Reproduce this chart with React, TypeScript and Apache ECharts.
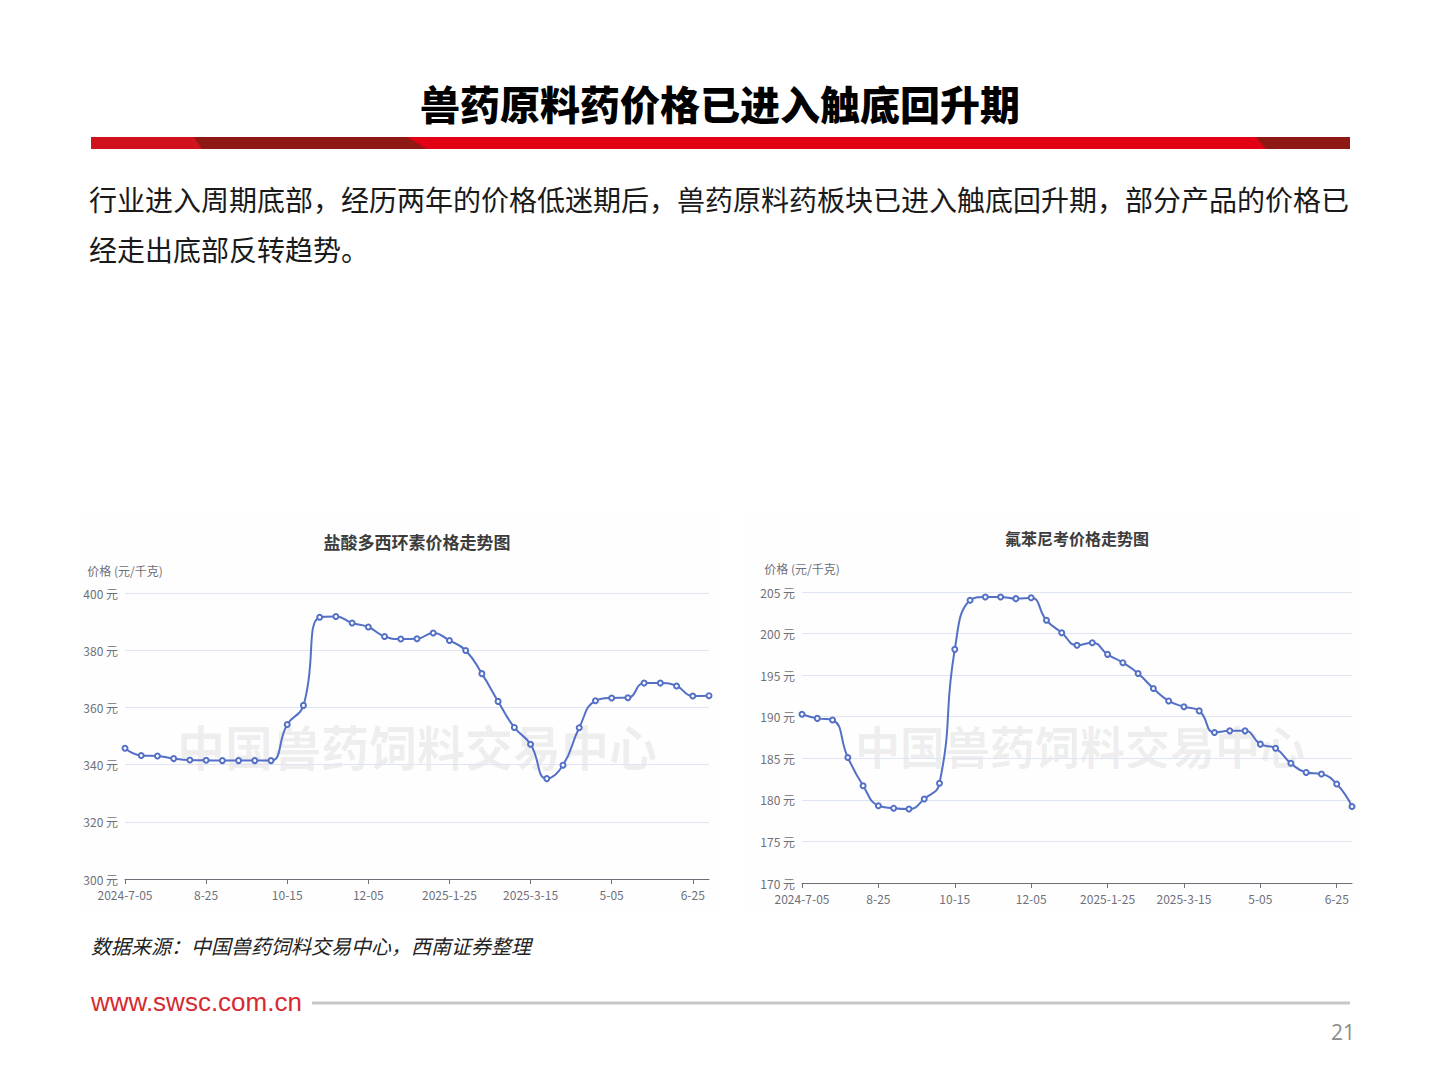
import React, { useEffect, useRef } from "react";
import * as echarts from "echarts";

const categories = [
  "2024-7-05", "7-15", "7-25", "8-05", "8-15", "8-25", "9-05", "9-15", "9-25", "10-05",
  "10-15", "10-25", "11-05", "11-15", "11-25", "12-05", "12-15", "12-25", "2025-1-05", "1-15",
  "2025-1-25", "2-05", "2-15", "2-25", "3-05", "2025-3-15", "3-25", "4-05", "4-15", "4-25",
  "5-05", "5-15", "5-25", "6-05", "6-15", "6-25", "7-05",
];

const doxyValues = [
  345.7, 343.2, 343.0, 342.1, 341.6, 341.5, 341.4, 341.4, 341.4, 341.4,
  354.0, 360.7, 391.5, 391.8, 389.5, 388.1, 384.8, 383.9, 384.0, 386.0,
  383.4, 379.9, 371.8, 362.1, 353.0, 347.1, 335.1, 339.8, 352.9, 362.3,
  363.3, 363.4, 368.5, 368.5, 367.5, 364.0, 364.1,
];

const florValues = [
  190.3, 189.8, 189.6, 185.1, 181.7, 179.3, 179.0, 178.9, 180.1, 182.0,
  198.1, 204.0, 204.4, 204.4, 204.2, 204.3, 201.6, 200.1, 198.6, 198.9,
  197.5, 196.5, 195.2, 193.4, 191.9, 191.2, 190.7, 188.1, 188.3, 188.3,
  186.7, 186.2, 184.4, 183.3, 183.1, 181.9, 179.2,
];

const pageTitle = "兽药原料药价格已进入触底回升期";
const paragraphLines = [
  "行业进入周期底部，经历两年的价格低迷期后，兽药原料药板块已进入触底回升期，部分产品的价格已",
  "经走出底部反转趋势。",
];
const chartTitles = ["盐酸多西环素价格走势图", "氟苯尼考价格走势图"];
const yAxisName = "价格 (元/千克)";
const watermark = "中国兽药饲料交易中心";
const sourceNote = "数据来源：中国兽药饲料交易中心，西南证券整理";
const website = "www.swsc.com.cn";
const pageNumber = "21";

const FONT = "'Noto Sans CJK SC', 'Noto Sans', sans-serif";
const LINE_COLOR = "#5470c6";

function makeXAxis(gridIndex: number) {
  return {
    type: "category",
    gridIndex,
    data: categories,
    boundaryGap: false,
    axisLine: { lineStyle: { color: "#6e7079" } },
    axisTick: { interval: 4, lineStyle: { color: "#6e7079" } },
    axisLabel: {
      interval: 4,
      color: "#6e7079",
      fontSize: 12,
      fontFamily: FONT,
      margin: 9,
    },
    splitLine: { show: false },
  };
}

function makeYAxis(gridIndex: number, min: number, max: number, interval: number, gap: number) {
  return {
    type: "value",
    gridIndex,
    min,
    max,
    interval,
    name: yAxisName,
    nameGap: gap,
    nameTextStyle: { color: "#6e7079", fontSize: 12, fontFamily: FONT },
    axisLine: { show: false },
    axisTick: { show: false },
    axisLabel: {
      formatter: "{value} 元",
      color: "#6e7079",
      fontSize: 12,
      fontFamily: FONT,
      margin: 7,
    },
    splitLine: { lineStyle: { color: "#e0e6f1" } },
  };
}

function makeSeries(index: number, data: number[]) {
  return {
    type: "line",
    xAxisIndex: index,
    yAxisIndex: index,
    data,
    smooth: true,
    symbol: "emptyCircle",
    symbolSize: 5,
    lineStyle: { width: 2, color: LINE_COLOR },
    itemStyle: { color: LINE_COLOR, borderWidth: 1.5 },
    z: 3,
  };
}

export default function App() {
  const ref = useRef<HTMLDivElement>(null);

  useEffect(() => {
    if (!ref.current) return;
    const chart = echarts.init(ref.current, null, { renderer: "svg" });

    const graphic: any[] = [
      // chart panels
      { type: "rect", shape: { x: 80, y: 513, width: 640, height: 398 }, style: { fill: "#fefefe" }, z: -10 },
      { type: "rect", shape: { x: 745, y: 513, width: 616, height: 398 }, style: { fill: "#fefefe" }, z: -10 },
      // header title
      {
        type: "text",
        x: 720,
        y: 103,
        style: {
          text: pageTitle,
          fontSize: 40,
          fontWeight: 900,
          fontFamily: FONT,
          fill: "#000",
          align: "center",
          verticalAlign: "middle",
        },
      },
      // red bar
      { type: "rect", shape: { x: 91, y: 137, width: 1259, height: 12 }, style: { fill: "#e20015" } },
      { type: "rect", shape: { x: 91, y: 137, width: 110, height: 12 }, style: { fill: "#cf121c" } },
      {
        type: "polygon",
        shape: { points: [[194, 137], [407, 137], [427, 149], [202, 149]] },
        style: { fill: "#8e1914" },
      },
      {
        type: "polygon",
        shape: { points: [[1256, 137], [1350, 137], [1350, 149], [1266, 149]] },
        style: { fill: "#8e1914" },
      },
      // paragraph
      ...paragraphLines.map((t, i) => ({
        type: "text",
        x: 89,
        y: 199 + i * 50,
        style: {
          text: t,
          fontSize: 28,
          fontFamily: FONT,
          fill: "#1a1a1a",
          align: "left",
          verticalAlign: "middle",
        },
      })),
      // chart titles
      {
        type: "text",
        x: 417,
        y: 541,
        style: {
          text: chartTitles[0],
          fontSize: 17,
          fontWeight: "bold",
          fontFamily: FONT,
          fill: "#3c3c3c",
          align: "center",
          verticalAlign: "middle",
        },
      },
      {
        type: "text",
        x: 1077,
        y: 538,
        style: {
          text: chartTitles[1],
          fontSize: 16,
          fontWeight: "bold",
          fontFamily: FONT,
          fill: "#3c3c3c",
          align: "center",
          verticalAlign: "middle",
        },
      },
      // watermarks
      {
        type: "text",
        x: 417,
        y: 745,
        z: -5,
        style: {
          text: watermark,
          fontSize: 48,
          fontWeight: "bold",
          fontFamily: FONT,
          fill: "rgba(0,0,0,0.065)",
          align: "center",
          verticalAlign: "middle",
        },
      },
      {
        type: "text",
        x: 1080,
        y: 745,
        z: -5,
        style: {
          text: watermark,
          fontSize: 45,
          fontWeight: "bold",
          fontFamily: FONT,
          fill: "rgba(0,0,0,0.065)",
          align: "center",
          verticalAlign: "middle",
        },
      },
      // source note
      {
        type: "text",
        x: 91,
        y: 945,
        style: {
          text: sourceNote,
          fontSize: 20,
          fontStyle: "italic",
          fontFamily: FONT,
          fill: "#222",
          align: "left",
          verticalAlign: "middle",
        },
      },
      // footer
      {
        type: "text",
        x: 91,
        y: 1002,
        style: {
          text: website,
          fontSize: 26,
          fontFamily: "'Liberation Sans', Arial, sans-serif",
          fill: "#d62a30",
          align: "left",
          verticalAlign: "middle",
        },
      },
      {
        type: "line",
        shape: { x1: 312, y1: 1003, x2: 1350, y2: 1003 },
        style: { stroke: "#c8c8c8", lineWidth: 3 },
      },
      {
        type: "text",
        x: 1343,
        y: 1032,
        style: {
          text: pageNumber,
          fontSize: 21,
          fontFamily: "'Open Sans', 'Noto Sans', sans-serif",
          fill: "#8c8c8c",
          align: "center",
          verticalAlign: "middle",
        },
      },
    ];

    chart.setOption({
      animation: false,
      backgroundColor: "#ffffff",
      textStyle: { fontFamily: FONT },
      grid: [
        { left: 125, right: 1440 - 709, top: 593, bottom: 1080 - 879, containLabel: false },
        { left: 802, right: 1440 - 1352, top: 592, bottom: 1080 - 883, containLabel: false },
      ],
      xAxis: [makeXAxis(0), makeXAxis(1)],
      yAxis: [makeYAxis(0, 300, 400, 20, 17), makeYAxis(1, 170, 205, 5, 18)],
      series: [makeSeries(0, doxyValues), makeSeries(1, florValues)],
      graphic,
    });

    return () => {
      chart.dispose();
    };
  }, []);

  return (
    <div
      ref={ref}
      style={{ position: "absolute", left: 0, top: 0, width: 1440, height: 1080 }}
    />
  );
}
